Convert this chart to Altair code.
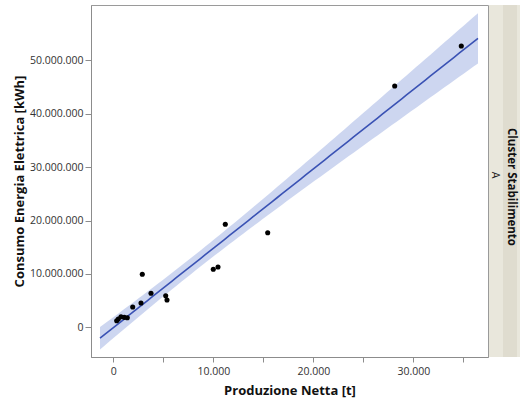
import altair as alt
import numpy as np
import pandas as pd

produzione = [340, 500, 770, 1100, 1400, 1940, 2770, 2900, 3770, 5240, 5370,
              10000, 10470, 11200, 15440, 28140, 34800]
consumo = [1.24e6, 1.55e6, 1.99e6, 1.87e6, 1.80e6, 3.80e6, 4.55e6, 9.93e6, 6.37e6,
           5.92e6, 5.11e6, 10.86e6, 11.29e6, 19.29e6, 17.70e6, 45.19e6, 52.68e6]
fit_extent = [-1330, 36470]
x_domain = [-2230, 37470]
y_domain = [-5.56e6, 60.36e6]
x_ticks = [0, 5000, 10000, 15000, 20000, 25000, 30000, 35000]
y_ticks = [0, 10e6, 20e6, 30e6, 40e6, 50e6]
cluster_title = "Cluster Stabilimento"
cluster_label = "A"

pts = pd.DataFrame({"x": produzione, "y": consumo})

# Least-squares fit and 95% confidence band of the mean
xa = np.array(produzione, float)
ya = np.array(consumo, float)
n = len(xa)
b1, b0 = np.polyfit(xa, ya, 1)
resid = ya - (b0 + b1 * xa)
s = np.sqrt((resid ** 2).sum() / (n - 2))
sxx = ((xa - xa.mean()) ** 2).sum()
t = 2.131  # t(0.975, 15)
grid = np.linspace(fit_extent[0], fit_extent[1], 80)
yhat = b0 + b1 * grid
half = t * s * np.sqrt(1 / n + (grid - xa.mean()) ** 2 / sxx)
fit = pd.DataFrame({"x": grid, "y": yhat, "lo": yhat - half, "hi": yhat + half})

W, H = 397, 352
fmt = "replace(replace(format(datum.value, ','), ',', '.'), ',', '.')"

xs = alt.Scale(domain=x_domain, nice=False, zero=False)
ys = alt.Scale(domain=y_domain, nice=False, zero=False)

xaxis = alt.Axis(values=x_ticks,
                 labelExpr=f"datum.value % 10000 === 0 ? {fmt} : ''",
                 title="Produzione Netta [t]", grid=False,
                 tickSize=5, labelPadding=4, titleY=33, titleBaseline="middle")
yaxis = alt.Axis(values=y_ticks, labelExpr=fmt,
                 title="Consumo Energia Elettrica [kWh]", grid=False,
                 tickSize=6, labelPadding=2, titleX=-72, titleY=H / 2,
                 titleAngle=-90, titleBaseline="middle", titleAlign="center")

band = alt.Chart(fit).mark_area(color="#c8d1ee", opacity=0.9).encode(
    x=alt.X("x:Q", scale=xs, axis=xaxis),
    y=alt.Y("lo:Q", scale=ys, axis=yaxis),
    y2="hi:Q",
)
line = alt.Chart(fit).mark_line(color="#3a52b4", strokeWidth=1.6).encode(
    x=alt.X("x:Q", scale=xs),
    y=alt.Y("y:Q", scale=ys),
)
points = alt.Chart(pts).mark_circle(color="black", size=26, opacity=1).encode(
    x=alt.X("x:Q", scale=xs),
    y=alt.Y("y:Q", scale=ys),
)

one = pd.DataFrame({"t": [cluster_title], "a": [cluster_label]})
strip = alt.Chart(one).mark_rect(color="#e9e7dc").encode(
    x=alt.value(W + 1), x2=alt.value(W + 32), y=alt.value(0), y2=alt.value(H))
strip2 = alt.Chart(one).mark_rect(color="#dfdccf").encode(
    x=alt.value(W + 15), x2=alt.value(W + 29), y=alt.value(0), y2=alt.value(H))
strip_title = alt.Chart(one).mark_text(
    angle=90, fontWeight="bold", fontSize=11.5, color="#111", font="Open Sans",
    align="center", baseline="middle").encode(
    x=alt.value(W + 23), y=alt.value(H / 2 + 6), text="t:N")
strip_label = alt.Chart(one).mark_text(
    angle=90, fontSize=10.5, color="#222", font="Open Sans",
    align="center", baseline="middle").encode(
    x=alt.value(W + 7), y=alt.value(H / 2 - 6), text="a:N")

chart = alt.layer(band, line, points, strip, strip2, strip_title, strip_label).properties(
    width=W, height=H,
    autosize=alt.AutoSizeParams(type="none"),
    padding={"left": 91, "top": 5, "right": 32, "bottom": 45},
    background="white",
).configure_view(
    stroke="#9a9a9a", strokeWidth=1,
).configure_axis(
    domainColor="#8c8c8c", tickColor="#8c8c8c",
    labelFont="Open Sans", labelFontSize=10.5, labelColor="#333333",
    titleFont="Open Sans", titleFontSize=13, titleFontWeight="bold", titleColor="#111111",
)

chart.save("out.html", embed_options={"renderer": "svg", "actions": False})
